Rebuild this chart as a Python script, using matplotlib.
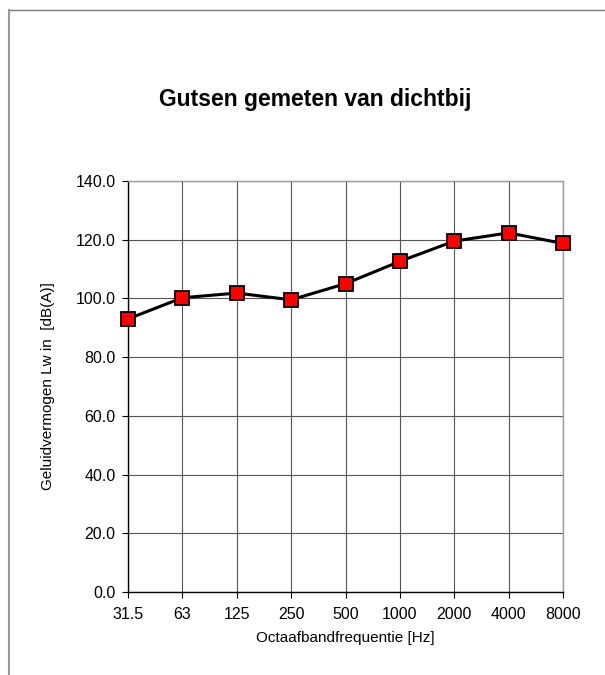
import matplotlib.pyplot as plt
from matplotlib.lines import Line2D

plt.rcParams['font.family'] = ['Liberation Sans', 'DejaVu Sans']

# octave band data
freqs = ['31.5', '63', '125', '250', '500', '1000', '2000', '4000', '8000']
lw = [93.0, 100.2, 101.8, 99.5, 105.0, 112.6, 119.5, 122.3, 118.7]
yticks = [0, 20, 40, 60, 80, 100, 120, 140]

fig = plt.figure(figsize=(6.05, 6.75), dpi=100)
ax = fig.add_axes([0.2116, 0.1230, 0.719, 0.609])

x = list(range(len(freqs)))
ax.plot(x, lw, color='black', lw=2.2, marker='s', markersize=10,
        markerfacecolor='#ff0000', markeredgecolor='black', markeredgewidth=1.3,
        zorder=3, clip_on=False)

ax.set_xlim(0, len(freqs) - 1)
ax.set_ylim(0, 140)
ax.set_xticks(x)
ax.set_xticklabels(freqs)
ax.set_yticks(yticks)
ax.set_yticklabels(['%.1f' % v for v in yticks])
ax.tick_params(labelsize=11.5, length=4, width=0.8, direction='out')
ax.tick_params(axis='x', pad=7)
ax.tick_params(axis='y', pad=5)
ax.grid(True, color='#555555', lw=0.8)
for s in ['left', 'bottom']:
    ax.spines[s].set_color('black')
    ax.spines[s].set_linewidth(1.0)
for s in ['top', 'right']:
    ax.spines[s].set_color('#999999')
    ax.spines[s].set_linewidth(1.0)

ax.set_xlabel('Octaafbandfrequentie [Hz]', fontsize=11, labelpad=6)
ax.set_ylabel('Geluidvermogen Lw in  [dB(A)]', fontsize=11, labelpad=15)

fig.text(0.521, 0.852, 'Gutsen gemeten van dichtbij', ha='center', va='center',
         fontsize=16.5, fontweight='bold')

# outer chart frame (top and left edges)
fig.add_artist(Line2D([0.0149, 1.0], [0.9852, 0.9852], color='#777777', lw=1.0))
fig.add_artist(Line2D([0.0149, 0.0149], [0.0, 0.9852], color='#999999', lw=1.5))

fig.savefig('out.png', dpi=100)
